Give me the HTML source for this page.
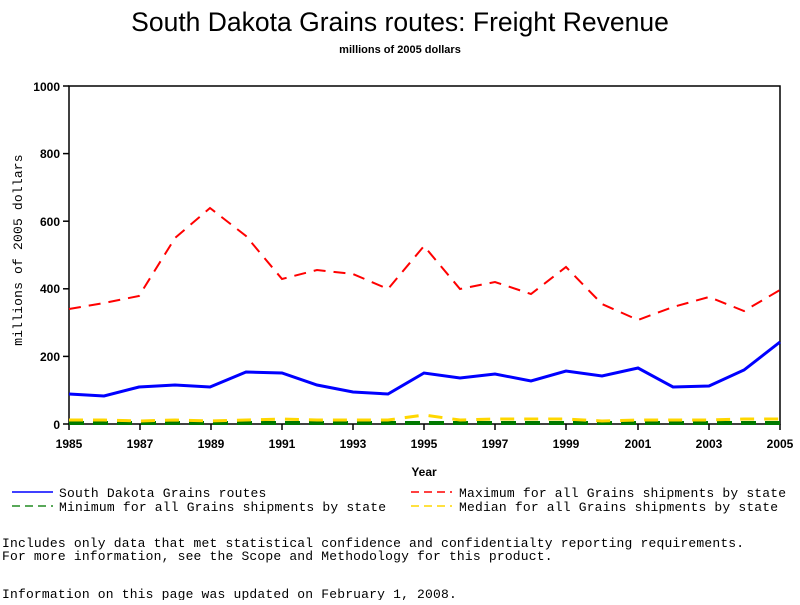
<!DOCTYPE html>
<html><head><meta charset="utf-8"><style>
body{margin:0;background:#fff;width:800px;height:600px;overflow:hidden}
text{font-family:"Liberation Sans",sans-serif}
.m{font-family:"Liberation Mono",monospace;font-size:13px;letter-spacing:0.18px}
.t{font-size:12px;font-weight:bold}
</style></head><body>
<svg width="800" height="600" xmlns="http://www.w3.org/2000/svg">
<text x="400" y="31" font-size="26.5" text-anchor="middle">South Dakota Grains routes: Freight Revenue</text>
<text x="400" y="53" font-size="11" font-weight="bold" text-anchor="middle">millions of 2005 dollars</text>
<rect x="69" y="86" width="711" height="338" fill="none" stroke="#000" stroke-width="1.5"/>
<g stroke="#000" stroke-width="1.5">
<line x1="63" y1="86" x2="69" y2="86"/><line x1="63" y1="153.6" x2="69" y2="153.6"/><line x1="63" y1="221.2" x2="69" y2="221.2"/><line x1="63" y1="288.8" x2="69" y2="288.8"/><line x1="63" y1="356.4" x2="69" y2="356.4"/><line x1="63" y1="424" x2="69" y2="424"/>
<line x1="69" y1="424" x2="69" y2="430"/><line x1="140" y1="424" x2="140" y2="430"/><line x1="211" y1="424" x2="211" y2="430"/><line x1="282" y1="424" x2="282" y2="430"/><line x1="353" y1="424" x2="353" y2="430"/><line x1="424" y1="424" x2="424" y2="430"/><line x1="495" y1="424" x2="495" y2="430"/><line x1="566" y1="424" x2="566" y2="430"/><line x1="638" y1="424" x2="638" y2="430"/><line x1="709" y1="424" x2="709" y2="430"/><line x1="780" y1="424" x2="780" y2="430"/>
</g>
<g class="t" text-anchor="end">
<text x="60" y="91" class="t">1000</text><text x="60" y="158" class="t">800</text><text x="60" y="226" class="t">600</text><text x="60" y="293" class="t">400</text><text x="60" y="361" class="t">200</text><text x="60" y="429" class="t">0</text>
</g>
<g text-anchor="middle">
<text x="69" y="448" class="t">1985</text><text x="140" y="448" class="t">1987</text><text x="211" y="448" class="t">1989</text><text x="282" y="448" class="t">1991</text><text x="353" y="448" class="t">1993</text><text x="424" y="448" class="t">1995</text><text x="495" y="448" class="t">1997</text><text x="566" y="448" class="t">1999</text><text x="638" y="448" class="t">2001</text><text x="709" y="448" class="t">2003</text><text x="780" y="448" class="t">2005</text>
<text x="424" y="476" class="t">Year</text>
</g>
<text transform="translate(22,250) rotate(-90)" class="m" font-size="12" text-anchor="middle" letter-spacing="1">millions of 2005 dollars</text>
<polyline fill="none" stroke="#007a00" stroke-width="4" stroke-dasharray="15,9" points="69,423 780,423"/>
<polyline fill="none" stroke="#ffd700" stroke-width="3" stroke-dasharray="14,10" points="69,420 104,420 139,421 175,420 210,421 246,420 282,419 317,420 353,420 388,420 424,415 460,420 495,419 531,419 566,419 602,421 638,420 673,420 709,420 744,419 780,419"/>
<polyline fill="none" stroke="#ff0000" stroke-width="2" stroke-dasharray="12,8" points="69,309 104,303 139,296 175,238 210,208 246,236 282,279 317,270 353,274 388,289 424,246 460,289 495,282 531,294 566,267 602,304 638,320 673,307 709,297 744,311 780,290"/>
<polyline fill="none" stroke="#0000ff" stroke-width="3" points="69,394 104,396 139,387 175,385 210,387 246,372 282,373 317,385 353,392 388,394 424,373 460,378 495,374 531,381 566,371 602,376 638,368 673,387 709,386 744,370 780,342"/>
<line x1="12" y1="492" x2="53" y2="492" stroke="#0000ff" stroke-width="1.5"/>
<text x="59" y="497" class="m">South Dakota Grains routes</text>
<line x1="12" y1="506" x2="53" y2="506" stroke="#228b22" stroke-width="1.5" stroke-dasharray="8,5"/>
<text x="59" y="511" class="m">Minimum for all Grains shipments by state</text>
<line x1="411" y1="492" x2="452" y2="492" stroke="#ff0000" stroke-width="1.5" stroke-dasharray="8,5"/>
<text x="459" y="497" class="m">Maximum for all Grains shipments by state</text>
<line x1="411" y1="506" x2="452" y2="506" stroke="#ffd700" stroke-width="1.5" stroke-dasharray="8,5"/>
<text x="459" y="511" class="m">Median for all Grains shipments by state</text>
<text x="2" y="547" class="m">Includes only data that met statistical confidence and confidentialty reporting requirements.</text>
<text x="2" y="560" class="m">For more information, see the Scope and Methodology for this product.</text>
<text x="2" y="598" class="m">Information on this page was updated on February 1, 2008.</text>
</svg>
</body></html>
